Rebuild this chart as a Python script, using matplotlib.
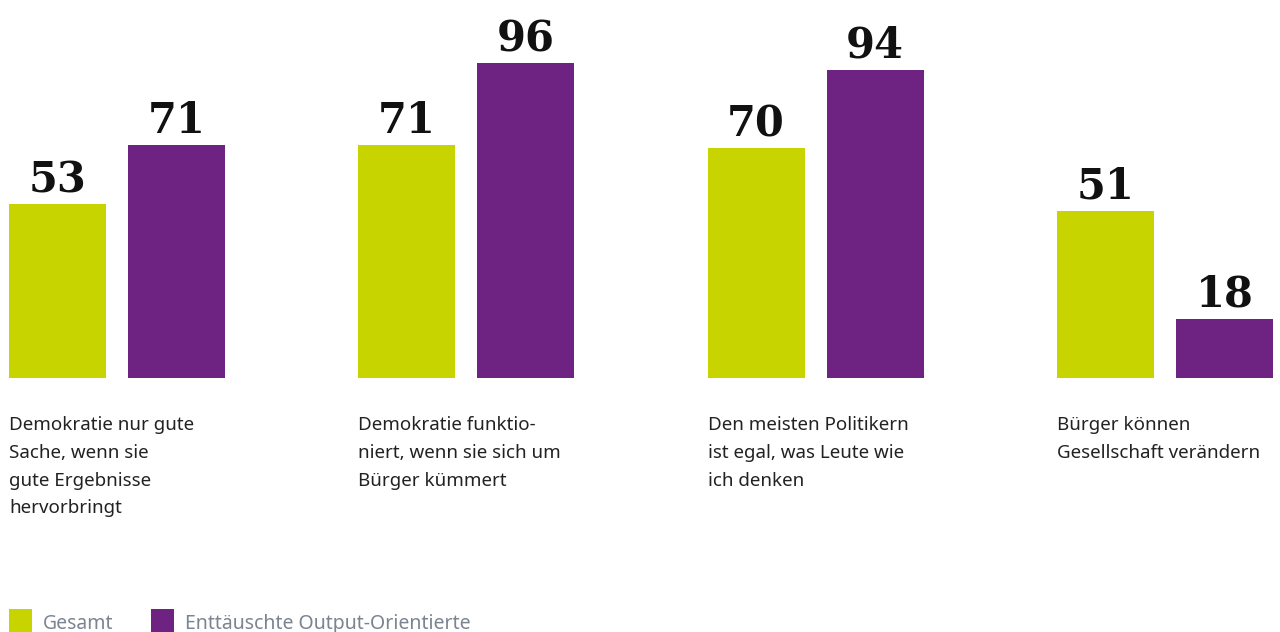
import matplotlib
matplotlib.use("Agg")
import matplotlib.pyplot as plt
from matplotlib.patches import Rectangle
import numpy as np

categories = [
    "Demokratie nur gute\nSache, wenn sie\ngute Ergebnisse\nhervorbringt",
    "Demokratie funktio-\nniert, wenn sie sich um\nBürger kümmert",
    "Den meisten Politikern\nist egal, was Leute wie\nich denken",
    "Bürger können\nGesellschaft verändern",
]
series_names = ["Gesamt", "Enttäuschte Output-Orientierte"]
gesamt = [53, 71, 70, 51]
enttaeuscht = [71, 96, 94, 18]
colors = ["#c8d400", "#6e2281"]

W, H = 1280, 632
fig = plt.figure(figsize=(W / 100, H / 100), dpi=100)
ax = fig.add_axes([0, 0, 1, 1])
ax.set_axis_off()

spacing = 349.3
bw = 97 / spacing
gap = 22 / spacing
x = np.arange(len(categories))
off = (bw + gap) / 2
ax.set_xlim(-117 / spacing, (W - 117) / spacing)
ppu = 3.28
base = H - 378
ax.set_ylim(-base / ppu, (H - base) / ppu)

for vals, sign, col in [(gesamt, -1, colors[0]), (enttaeuscht, 1, colors[1])]:
    bars = ax.bar(x + sign * off, vals, width=bw, color=col, linewidth=0)
    for b, v in zip(bars, vals):
        ax.text(b.get_x() + b.get_width() / 2, v + 12 / ppu, str(v),
                ha="center", va="baseline", fontsize=30, fontweight="heavy",
                family="DejaVu Serif", color="#111111")

for i, cat in enumerate(categories):
    left = i - off - bw / 2
    ax.text(left, -(416 - 378) / ppu, cat, ha="left", va="top",
            fontsize=13.5, family="Noto Sans", color="#222222", linespacing=1.70)

# legend
sq = 23
lx = [9, 151]
for j, name in enumerate(series_names):
    fig.add_artist(Rectangle((lx[j] / W, (H - 632) / H), sq / W, sq / H,
                             transform=fig.transFigure, color=colors[j], lw=0))
    fig.text((lx[j] + 34) / W, (H - 629) / H, name, ha="left", va="baseline",
             fontsize=14, family="Noto Sans", color="#7a8591")

fig.savefig("out.png", dpi=100)
